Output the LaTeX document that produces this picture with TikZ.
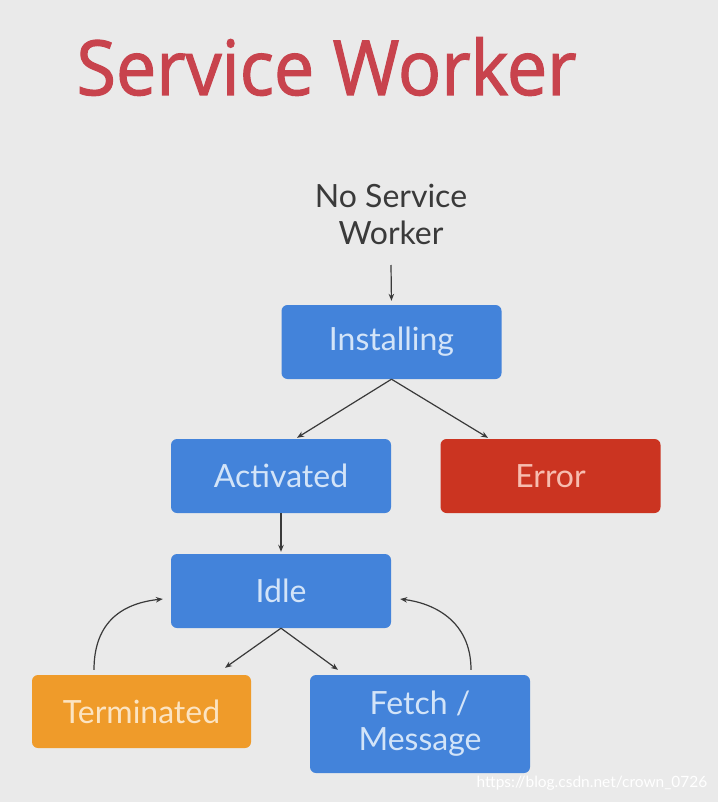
\documentclass[tikz,border=0pt]{standalone}
\usepackage{fontspec}
\setmainfont{Lato}
\newfontfamily\titlefont[FakeBold=1.6,FakeStretch=0.945]{Open Sans}
\usetikzlibrary{arrows.meta}
\definecolor{bg}{HTML}{EAEAEA}
\definecolor{swblue}{HTML}{4383DA}
\definecolor{bluetext}{HTML}{D3E4F8}
\definecolor{swred}{HTML}{CB3421}
\definecolor{redtext}{HTML}{F7BDB0}
\definecolor{sworange}{HTML}{EF9B2A}
\definecolor{orangetext}{HTML}{FCE4C2}
\definecolor{titlered}{HTML}{C8434D}
\definecolor{arrowgray}{HTML}{3A3A3A}
\definecolor{darktext}{HTML}{3A3A3A}
\begin{document}
\begin{tikzpicture}[x=1pt,y=-1pt,
  box/.style={rounded corners=6pt, minimum width=220pt, minimum height=74pt,
    inner sep=0pt, align=center, font=\fontsize{32}{36}\selectfont},
  bluebox/.style={box, fill=swblue, text=bluetext},
  redbox/.style={box, fill=swred, text=redtext},
  orangebox/.style={box, fill=sworange, text=orangetext},
  conn/.style={draw=arrowgray, line width=1.2pt, -{Stealth[length=7pt,width=5.5pt]}}]
\fill[bg] (0,0) rectangle (718,802);
\useasboundingbox (0,0) rectangle (718,802);
\node[anchor=base, font=\titlefont\fontsize{76}{80}\selectfont, text=titlered, inner sep=0pt] (title) at (326.5,95) {Service Worker};
\node[align=center, font=\fontsize{32}{37}\selectfont, text=darktext, inner sep=0pt] (nosw) at (391,214) {No Service\\Worker};
\coordinate (nswout) at (391,265);
\node[bluebox] (inst) at (391.5,342) {Installing};
\node[bluebox] (act) at (281,476) {Activated};
\node[redbox] (err) at (550.5,476) {Error};
\node[bluebox] (idle) at (281,591) {Idle};
\node[orangebox, minimum width=219pt, minimum height=73pt] (term) at (141.5,711.5) {Terminated};
\node[bluebox, minimum height=98pt] (fetch) at (420,724) {Fetch /\\Message};
\node[font=\fontsize{15.5}{16}\selectfont, text=white, inner sep=0pt] (wm) at (592,783) {https://blog.csdn.net/crown\_0726};
\draw[conn, shorten >=4pt] (nswout) -- (inst.north);
\draw[conn] (inst.south) -- ([xshift=16pt,yshift=1pt]act.north);
\draw[conn] (inst.south) -- ([xshift=-62.5pt,yshift=1pt]err.north);
\draw[conn, shorten >=2pt] (act.south) -- (idle.north);
\draw[conn] (idle.south) -- ([xshift=83.5pt,yshift=7pt]term.north);
\draw[conn] (idle.south) -- ([xshift=-82pt,yshift=5pt]fetch.north);
\draw[conn] ([xshift=-47.5pt,yshift=5pt]term.north) .. controls +(0,-50) and +(-38,4) .. ([xshift=-8pt,yshift=-8pt]idle.west);
\draw[conn] ([xshift=51pt,yshift=5pt]fetch.north) .. controls +(0,-50) and +(32,4) .. ([xshift=9pt,yshift=-8pt]idle.east);
\end{tikzpicture}
\end{document}
